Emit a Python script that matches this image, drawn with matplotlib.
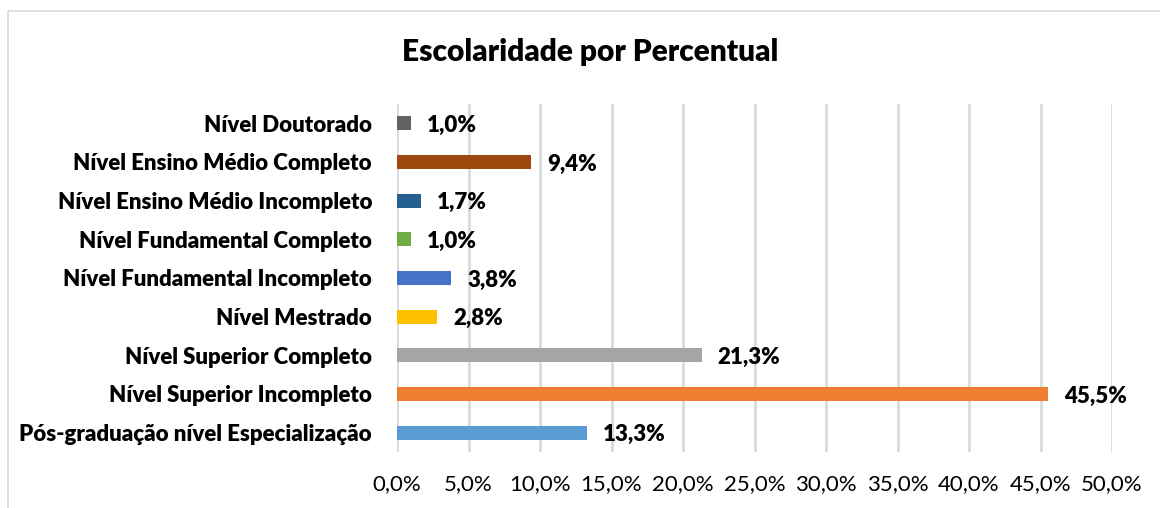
import matplotlib.pyplot as plt
from matplotlib.patches import Rectangle
from matplotlib.ticker import FuncFormatter

# categories from bottom to top, as drawn
categorias = [
    "Pós-graduação nível Especialização",
    "Nível Superior Incompleto",
    "Nível Superior Completo",
    "Nível Mestrado",
    "Nível Fundamental Incompleto",
    "Nível Fundamental Completo",
    "Nível Ensino Médio Incompleto",
    "Nível Ensino Médio Completo",
    "Nível Doutorado",
]
percentuais = [13.3, 45.5, 21.3, 2.8, 3.8, 1.0, 1.7, 9.4, 1.0]
cores = ["#5B9BD5", "#ED7D31", "#A5A5A5", "#FFC000", "#4472C4",
         "#70AD47", "#255E91", "#9E480E", "#636363"]
ticks_x = [0, 5, 10, 15, 20, 25, 30, 35, 40, 45, 50]

plt.rcParams['font.family'] = ['Lato', 'DejaVu Sans']

fig = plt.figure(figsize=(11.6, 5.08), dpi=100)
ax = fig.add_axes([397 / 1160, 1 - 452 / 508, 715 / 1160, 348 / 508])

# chart frame
fig.patches.append(Rectangle((8 / 1160, -0.1), 1.2, 1 - 11 / 508 + 0.1,
                             transform=fig.transFigure, fill=False,
                             edgecolor="#D9D9D9", linewidth=1.2))

y = list(range(len(categorias)))
ax.barh(y, percentuais, height=0.36, color=cores, zorder=3)

for yi, v in zip(y, percentuais):
    ax.annotate(f"{v:.1f}%".replace(".", ","), (v, yi), xytext=(16, -2),
                textcoords="offset pixels", va="center", ha="left",
                fontsize=16, fontweight="heavy", color="#000000")

ax.set_xlim(0, 50)
ax.set_ylim(-0.5, len(categorias) - 0.5)
ax.set_xticks(ticks_x)
ax.xaxis.set_major_formatter(FuncFormatter(lambda v, p: f"{v:.1f}%".replace(".", ",")))
ax.set_yticks(y)
ax.set_yticklabels(categorias, fontsize=16, fontweight="heavy")
ax.tick_params(axis="x", labelsize=16, length=0, pad=16, colors="#000000")
ax.tick_params(axis="y", length=0, pad=18)
ax.grid(axis="x", color="#D9D9D9", linewidth=2, zorder=0)
for s in ax.spines.values():
    s.set_visible(False)

fig.text(0.509, 1 - 52 / 508, "Escolaridade por Percentual", ha="center",
         va="center", fontsize=21.5, fontweight="heavy")

fig.savefig("out.png", dpi=100)
